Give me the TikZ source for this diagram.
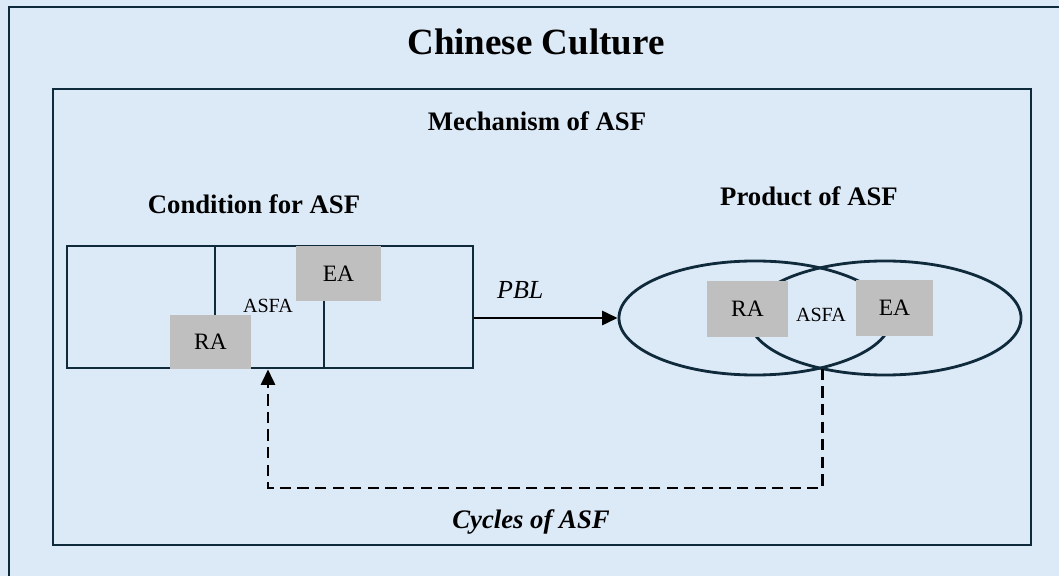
\documentclass[tikz,border=0pt]{standalone}
\usepackage{fontspec}
\setmainfont{Liberation Serif}
\usetikzlibrary{arrows.meta,positioning,shapes.geometric,calc}
\definecolor{cBack}{HTML}{DCE9F6}
\definecolor{cLine}{HTML}{0F2A3B}
\definecolor{cArea}{HTML}{BFBFBF}

\begin{document}
\begin{tikzpicture}[
    x=0.025cm, y=-0.025cm,
    frame/.style={draw=cLine, line width=2pt},
    outline/.style={draw=cLine, line width=2pt},
    area/.style={fill=cArea, minimum width=#1, minimum height=1.35cm, inner sep=0pt, font=\fontsize{16.7}{18}\selectfont},
    area/.default={2.025cm},
    small/.style={font=\fontsize{14.3}{16}\selectfont, inner sep=0pt},
    head/.style={font=\fontsize{19}{22}\selectfont\bfseries, inner sep=0pt},
    arr/.style={-{Triangle[length=11pt,width=10pt]}, line width=1.9pt, black},
    loop/.style={arr, dash pattern=on 8pt off 4.5pt},
]

% canvas and outer frame
\useasboundingbox (0,0) rectangle (1059,576);
\fill[cBack] (0,0) rectangle (1059,576);
\clip (0,0) rectangle (1059,576);
\draw[frame] (9,7) rectangle (1080,600);
\node[font=\fontsize{26.3}{30}\selectfont\bfseries, inner sep=0pt] (title) at (536,42) {Chinese Culture};

% mechanism frame
\draw[frame] (53,89) rectangle (1031,545);
\node[head] (mech) at (537,121) {Mechanism of ASF};

% Condition
\node[head] (condlabel) at (254,204) {Condition for ASF};
\node[outline, rectangle, minimum width=10.15cm, minimum height=3.05cm, inner sep=0pt] (cond) at (270,307) {};
\draw[outline] (215,246) -- (215,318);
\draw[outline] (324,299) -- (324,368);
\node[area] (lRA) at (210.5,342) {RA};
\node[area=2.125cm] (lEA) at (338.5,273.5) {EA};
\node[small] (lASFA) at (268,306) {ASFA};

% Product
\node[head] (prodlabel) at (809,196) {Product of ASF};
\node[outline, ellipse, minimum width=6.8cm, minimum height=2.85cm, inner sep=0pt] (prodL) at (755,318) {};
\node[outline, ellipse, minimum width=6.8cm, minimum height=2.85cm, inner sep=0pt] (prodR) at (885,318) {};
\node[area, minimum height=1.4cm] (rRA) at (747.5,309) {RA};
\node[area=1.925cm, minimum height=1.4cm] (rEA) at (894.5,308) {EA};
\node[small] (rASFA) at (821,315) {ASFA};

% connectors
\draw[arr] (prodL.west -| cond.east) -- node[pos=0.32, above=0.45cm, font=\fontsize{18.5}{20}\selectfont\itshape, inner sep=0pt] (pbl) {PBL} (prodL.west);
\draw[loop] (prodL.-37.6) -- ++(0,119) -| ([xshift=-0.05cm]cond.south);
\node[head, font=\fontsize{19}{22}\selectfont\bfseries\itshape] (cycles) at (531,522) {Cycles of ASF};

\end{tikzpicture}
\end{document}
